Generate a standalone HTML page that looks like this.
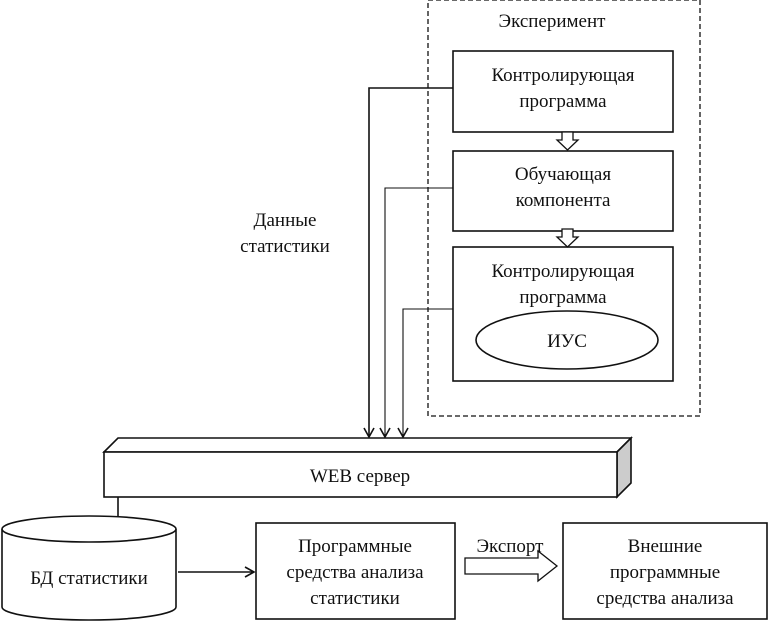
<!DOCTYPE html>
<html><head><meta charset="utf-8"><style>
html,body{margin:0;padding:0;background:#fff;}
svg{display:block;}
text{font-family:"Liberation Serif","Noto Serif CJK SC",serif;font-size:19px;fill:#111;}
</style></head><body>
<svg width="769" height="622" viewBox="0 0 769 622" xmlns="http://www.w3.org/2000/svg">
<defs>
<marker id="a" markerWidth="12" markerHeight="12" refX="10" refY="6" orient="auto" markerUnits="userSpaceOnUse">
<path d="M1,1 L10,6 L1,11" fill="none" stroke="#111" stroke-width="1.6"/>
</marker>
</defs>
<g stroke="#111" stroke-width="1.6" fill="none">
<rect x="428" y="0" width="272" height="416" stroke-dasharray="5,3" stroke-width="1.3"/>
<rect x="453" y="51" width="220" height="81" fill="#fff"/>
<rect x="453" y="151" width="220" height="80" fill="#fff"/>
<rect x="453" y="247" width="220" height="134" fill="#fff"/>
<ellipse cx="567" cy="340" rx="91" ry="29"/>
<path d="M562,132 h11 v8 h5 l-10.5,10 l-10.5,-10 h5 z" fill="#fff" stroke-width="1.3"/>
<path d="M562,229 h11 v8 h5 l-10.5,10 l-10.5,-10 h5 z" fill="#fff" stroke-width="1.3"/>
<path d="M453,88 H369 V437" marker-end="url(#a)"/>
<path d="M453,188 H385 V437" marker-end="url(#a)" stroke-width="1.1"/>
<path d="M453,309 H403 V437" marker-end="url(#a)" stroke-width="1.1"/>
<path d="M104,452 L118,438 H631 L617,452 Z" fill="#fff"/>
<path d="M617,452 L631,438 V483 L617,497 Z" fill="#ccc"/>
<rect x="104" y="452" width="513" height="45" fill="#fff"/>
<path d="M118,497 V535" marker-end="url(#a)"/>
<path d="M2,529 V607 A87,13 0 0 0 176,607 V529" fill="#fff"/>
<ellipse cx="89" cy="529" rx="87" ry="13" fill="#fff"/>
<path d="M178,572 H254" marker-end="url(#a)"/>
<rect x="256" y="523" width="199" height="96"/>
<rect x="563" y="523" width="204" height="96"/>
<path d="M465,558 H538 V551 L557,566 L538,581 V574 H465 Z" fill="#fff" stroke-width="1.3"/>
</g>
<g text-anchor="middle">
<text x="552" y="27">Эксперимент</text>
<text x="563" y="81">Контролирующая</text>
<text x="563" y="107">программа</text>
<text x="563" y="180">Обучающая</text>
<text x="563" y="206">компонента</text>
<text x="563" y="277">Контролирующая</text>
<text x="563" y="303">программа</text>
<text x="567" y="347">ИУС</text>
<text x="285" y="226">Данные</text>
<text x="285" y="252">статистики</text>
<text x="360" y="482">WEB сервер</text>
<text x="89" y="584">БД статистики</text>
<text x="355" y="552">Программные</text>
<text x="355" y="578">средства анализа</text>
<text x="355" y="604">статистики</text>
<text x="510" y="552">Экспорт</text>
<text x="665" y="552">Внешние</text>
<text x="665" y="578">программные</text>
<text x="665" y="604">средства анализа</text>
</g>
</svg>
</body></html>
